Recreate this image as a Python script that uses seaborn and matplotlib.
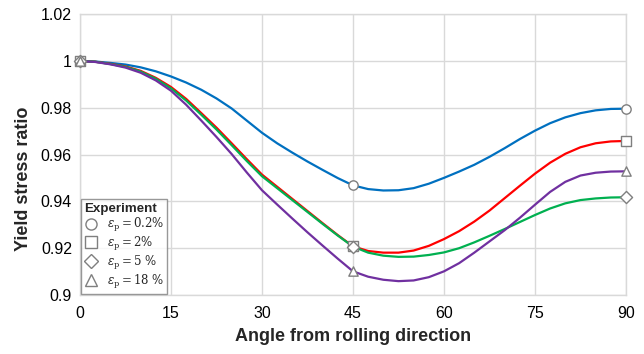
import numpy as np
import pandas as pd
import matplotlib
matplotlib.use("Agg")
import matplotlib.pyplot as plt
from matplotlib.lines import Line2D
import seaborn as sns

# ---- data (every 2.5 degrees) ----
angles = [0, 2.5, 5, 7.5, 10, 12.5, 15, 17.5, 20, 22.5, 25, 27.5, 30, 32.5, 35, 37.5,
          40, 42.5, 45, 47.5, 50, 52.5, 55, 57.5, 60, 62.5, 65, 67.5, 70, 72.5, 75,
          77.5, 80, 82.5, 85, 87.5, 90]
ratio_02 = [1.0, 0.9998, 0.9992, 0.9985, 0.9973, 0.9956, 0.9934, 0.9908, 0.9877, 0.9840,
            0.9797, 0.9745, 0.9693, 0.9648, 0.9608, 0.9570, 0.9534, 0.9499, 0.9468, 0.9452,
            0.9446, 0.9447, 0.9456, 0.9475, 0.9500, 0.9527, 0.9556, 0.9590, 0.9627, 0.9666,
            0.9702, 0.9734, 0.9759, 0.9777, 0.9789, 0.9795, 0.9796]
ratio_2 = [1.0, 0.9997, 0.9988, 0.9977, 0.9958, 0.9928, 0.9889, 0.9838, 0.9777, 0.9715,
           0.9648, 0.9580, 0.9514, 0.9462, 0.9410, 0.9358, 0.9306, 0.9255, 0.9207, 0.9187,
           0.9180, 0.9180, 0.9189, 0.9209, 0.9238, 0.9272, 0.9313, 0.9360, 0.9413, 0.9466,
           0.9518, 0.9565, 0.9603, 0.9631, 0.9648, 0.9656, 0.9658]
ratio_5 = [1.0, 0.9997, 0.9987, 0.9975, 0.9955, 0.9924, 0.9883, 0.9831, 0.9770, 0.9707,
           0.9640, 0.9572, 0.9507, 0.9456, 0.9405, 0.9354, 0.9303, 0.9253, 0.9206, 0.9180,
           0.9167, 0.9162, 0.9163, 0.9170, 0.9181, 0.9199, 0.9224, 0.9252, 0.9281, 0.9311,
           0.9341, 0.9369, 0.9391, 0.9405, 0.9412, 0.9416, 0.9417]
ratio_18 = [1.0, 0.9996, 0.9986, 0.9972, 0.9950, 0.9917, 0.9873, 0.9813, 0.9745, 0.9675,
            0.9602, 0.9523, 0.9447, 0.9386, 0.9326, 0.9267, 0.9210, 0.9154, 0.9100, 0.9077,
            0.9064, 0.9058, 0.9061, 0.9075, 0.9100, 0.9135, 0.9180, 0.9228, 0.9276, 0.9329,
            0.9385, 0.9440, 0.9483, 0.9510, 0.9522, 0.9527, 0.9528]
exp_angles = [0, 45, 90]

series_names = ["0.2%", "2%", "5 %", "18 %"]
series_values = [ratio_02, ratio_2, ratio_5, ratio_18]
colors = ["#0070C0", "#FF0000", "#00B050", "#7030A0"]
markers = ["o", "s", "D", "^"]
x_ticks = [0, 15, 30, 45, 60, 75, 90]
y_ticks = [0.9, 0.92, 0.94, 0.96, 0.98, 1.0, 1.02]
y_tick_labels = ["0.9", "0.92", "0.94", "0.96", "0.98", "1", "1.02"]

rows = []
for name, vals in zip(series_names, series_values):
    for a, v in zip(angles, vals):
        rows.append({"angle": a, "ratio": v, "series": name})
df = pd.DataFrame(rows)
df_exp = df[df["angle"].isin(exp_angles)]

sns.set_theme(style="white")
plt.rcParams["font.family"] = ["Liberation Sans", "DejaVu Sans"]
plt.rcParams["mathtext.fontset"] = "dejavuserif"

fig, ax = plt.subplots(figsize=(6.44, 3.54), dpi=100)
fig.subplots_adjust(left=0.1242, right=0.972, top=0.9596, bottom=0.1675)

sns.lineplot(data=df, x="angle", y="ratio", hue="series", palette=colors,
             linewidth=1.6, legend=False, ax=ax, zorder=3)

for name, mk in zip(series_names, markers):
    sub = df_exp[df_exp["series"] == name]
    ms = 45 if mk != "D" else 38
    ax.scatter(sub["angle"], sub["ratio"], marker=mk, s=ms, facecolor="white",
               edgecolor="#7f7f7f", linewidth=1.0, zorder=5, clip_on=False)

ax.set_xlim(0, 90)
ax.set_ylim(0.9, 1.02)
ax.set_xticks(x_ticks)
ax.set_yticks(y_ticks)
ax.set_yticklabels(y_tick_labels)
ax.grid(True, color="#d9d9d9", linewidth=1.0)
ax.set_axisbelow(True)
for s in ax.spines.values():
    s.set_color("#d9d9d9")
    s.set_linewidth(1.0)
ax.tick_params(axis="both", length=0, labelsize=11.5, colors="#000000")
ax.tick_params(axis="x", pad=8)
ax.tick_params(axis="y", pad=5.8)

ax.set_xlabel("Angle from rolling direction", fontsize=13, fontweight="bold", labelpad=5.5)
ax.set_ylabel("Yield stress ratio", fontsize=13, fontweight="bold", labelpad=6.6)
ax.yaxis.label.set_y(0.413)

handles = [Line2D([], [], linestyle="none", marker=mk, markersize=(8 if mk != "D" else 7),
                  markerfacecolor="white", markeredgecolor="#7f7f7f", markeredgewidth=1.0)
           for mk in markers]
labels = [r"$\varepsilon_\mathrm{p} = 0.2\%$", r"$\varepsilon_\mathrm{p} = 2\%$",
          r"$\varepsilon_\mathrm{p} = 5\ \%$", r"$\varepsilon_\mathrm{p} = 18\ \%$"]
leg = ax.legend(handles, labels, title="Experiment", loc="lower left",
                bbox_to_anchor=(0.0, 0.0), borderaxespad=0.05, fontsize=8.5,
                title_fontproperties={"weight": "bold", "size": 9.6},
                frameon=True, fancybox=False, edgecolor="#7f7f7f",
                handletextpad=0.7, labelspacing=0.08, borderpad=0.3,
                handlelength=1.2, alignment="left")
leg.get_frame().set_linewidth(1.0)
leg.set_zorder(10)

fig.savefig("out.png", dpi=100)
